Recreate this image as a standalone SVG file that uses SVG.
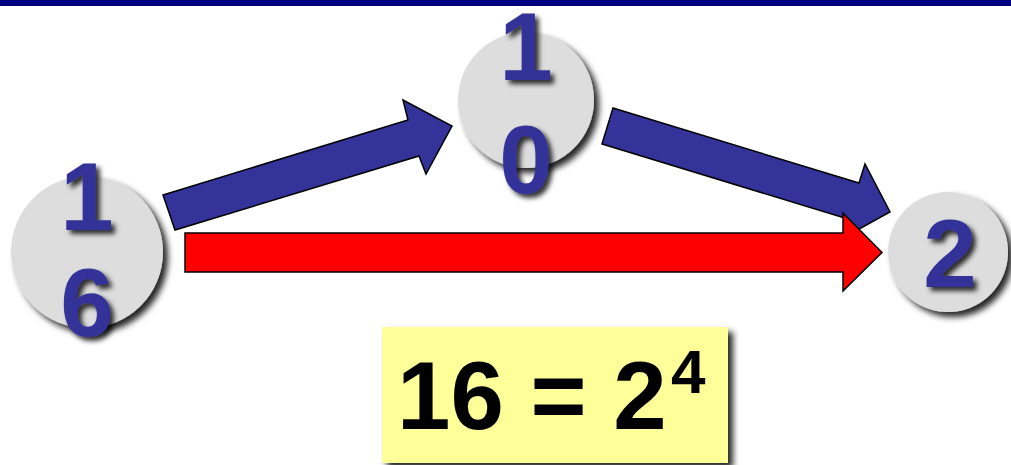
<svg xmlns="http://www.w3.org/2000/svg" width="1011" height="465" viewBox="0 0 1011 465">
<defs>
<filter id="sh" x="-20%" y="-20%" width="150%" height="150%">
<feDropShadow dx="5" dy="5" stdDeviation="3" flood-color="#000" flood-opacity="0.85"/>
</filter>
<filter id="tsh" x="-30%" y="-30%" width="170%" height="170%">
<feDropShadow dx="4" dy="4" stdDeviation="2.5" flood-color="#000" flood-opacity="0.8"/>
</filter>
</defs>
<style>
.node{fill:#DDDDDD;filter:url(#sh)}
.num{font-family:"Liberation Sans",Arial,sans-serif;font-weight:bold;font-size:96px;fill:#333399;text-anchor:middle;filter:url(#tsh)}
.blue{fill:#333399;stroke:#000;stroke-width:1.5;stroke-linejoin:miter}
.red{fill:#FF0000;stroke:#000;stroke-width:1.5;stroke-linejoin:miter}
.eq{font-family:"Liberation Sans",Arial,sans-serif;font-weight:bold;fill:#000}
</style>
<rect x="0" y="0" width="1011" height="6" fill="#000080"/>
<g id="node16">
<circle class="node" cx="87" cy="252" r="76"/>
</g>
<g id="node10">
<circle class="node" cx="526" cy="100" r="68"/>
</g>
<g id="node2">
<circle class="node" cx="948" cy="252" r="60"/>
</g>
<g id="connectors">
<polygon class="blue" points="163,195 408,120 403,100 452,126 426,174 419,156 175,230"/>
<polygon class="blue" points="613,108 859,183 865,164 890,212 843,238 848,219 602,144"/>
<polygon class="red" points="185,233 843,233 843,213 882,252.5 843,291 843,272 185,272"/>
</g>
<g id="labels">
<text class="num" x="87" y="230">1</text>
<text class="num" x="87" y="336">6</text>
<text class="num" x="526" y="80">1</text>
<text class="num" x="526" y="193">0</text>
<text class="num" x="950" y="287">2</text>
</g>
<g id="equation">
<rect x="382" y="327" width="346" height="136" fill="#FFFF99" filter="url(#sh)"/>
<text class="eq" x="397" y="429" font-size="96">16 = 2<tspan x="671" y="393" font-size="62">4</tspan></text>
</g>
</svg>
